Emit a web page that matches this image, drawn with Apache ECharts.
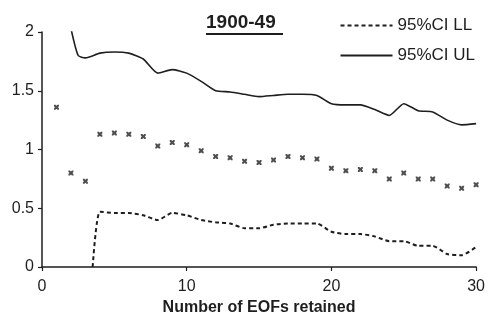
<!DOCTYPE html>
<html>
<head>
<meta charset="utf-8">
<script src="https://cdn.jsdelivr.net/npm/echarts@6/dist/echarts.min.js"></script>
<style>
  html, body { margin: 0; padding: 0; background: #fff; }
  #chart { width: 488px; height: 321px; }
</style>
</head>
<body>
<div id="chart"></div>
<script>
// Number of EOFs retained, and the statistic for each count
const eofCounts = [1, 2, 3, 4, 5, 6, 7, 8, 9, 10, 11, 12, 13, 14, 15, 16, 17, 18, 19, 20, 21, 22, 23, 24, 25, 26, 27, 28, 29, 30];
const statValues = [1.36, 0.80, 0.73, 1.13, 1.14, 1.13, 1.11, 1.03, 1.06, 1.04, 0.99, 0.94, 0.93, 0.90, 0.89, 0.91, 0.94, 0.93, 0.92, 0.84, 0.82, 0.83, 0.82, 0.75, 0.80, 0.75, 0.75, 0.69, 0.67, 0.70];

// 95% confidence interval, lower limit
const llX = [3.5, 4, 5, 6, 7, 8, 9, 10, 11, 12, 13, 14, 15, 16, 17, 18, 19, 20, 21, 22, 23, 24, 25, 26, 27, 28, 29, 30];
const llY = [0, 0.47, 0.46, 0.46, 0.44, 0.40, 0.46, 0.44, 0.40, 0.38, 0.37, 0.33, 0.33, 0.36, 0.37, 0.37, 0.37, 0.30, 0.28, 0.28, 0.26, 0.22, 0.22, 0.18, 0.18, 0.11, 0.10, 0.17];

// 95% confidence interval, upper limit
const ulX = [2, 2.5, 3, 4, 5, 6, 7, 8, 9, 10, 11, 12, 13, 14, 15, 16, 17, 18, 19, 20, 21, 22, 23, 24, 25, 26, 27, 28, 29, 30];
const ulY = [2.03, 1.80, 1.78, 1.82, 1.83, 1.82, 1.77, 1.65, 1.68, 1.65, 1.58, 1.50, 1.49, 1.47, 1.45, 1.46, 1.47, 1.47, 1.46, 1.39, 1.38, 1.38, 1.34, 1.29, 1.39, 1.33, 1.32, 1.25, 1.21, 1.22];

const xTicks = { min: 0, max: 30, interval: 10 };
const yTicks = { min: 0, max: 2, interval: 0.5 };

const titleText = '1900-49';
const seriesNames = ['95%CI LL', '95%CI UL'];

const ink = '#1e1e1e';
const fontFamily = '"Liberation Sans", Arial, sans-serif';

const zip = (xs, ys) => xs.map((x, i) => [x, ys[i]]);

const chart = echarts.init(document.getElementById('chart'), null, { renderer: 'canvas' });

chart.setOption({
  animation: false,
  backgroundColor: '#ffffff',
  textStyle: { fontFamily: fontFamily, color: ink },
  grid: { left: 42, right: 8, top: 32, bottom: 52, containLabel: false },
  graphic: [
    {
      type: 'text',
      left: 206,
      top: 13,
      style: {
        text: titleText,
        font: 'bold 19px ' + fontFamily,
        fill: ink
      }
    },
    {
      type: 'rect',
      left: 206,
      top: 33,
      shape: { width: 77, height: 2 },
      style: { fill: ink }
    }
  ],
  legend: {
    data: seriesNames,
    orient: 'vertical',
    right: 8,
    top: 12,
    itemWidth: 52,
    itemHeight: 14,
    itemGap: 13,
    itemStyle: { color: 'transparent', borderWidth: 0 },
    textStyle: { fontSize: 17, color: ink, fontFamily: fontFamily }
  },
  xAxis: {
    type: 'value',
    min: xTicks.min,
    max: xTicks.max,
    interval: xTicks.interval,
    name: 'Number of EOFs retained',
    nameLocation: 'middle',
    nameGap: 33,
    nameTextStyle: { fontSize: 16, fontWeight: 'bold', color: ink, fontFamily: fontFamily },
    axisLine: { onZero: false, lineStyle: { color: ink, width: 1.5 } },
    axisTick: { inside: false, length: 4, lineStyle: { color: ink, width: 1.2 } },
    axisLabel: { fontSize: 16, color: ink, margin: 12 },
    splitLine: { show: false }
  },
  yAxis: {
    type: 'value',
    min: yTicks.min,
    max: yTicks.max,
    interval: yTicks.interval,
    axisLine: { show: true, onZero: false, lineStyle: { color: ink, width: 1.5 } },
    axisTick: { show: true, inside: false, length: 4, lineStyle: { color: ink, width: 1.2 } },
    axisLabel: { fontSize: 16, color: ink, margin: 8 },
    splitLine: { show: false }
  },
  series: [
    {
      name: seriesNames[0],
      type: 'line',
      data: zip(llX, llY),
      smooth: 0.2,
      symbol: 'none',
      lineStyle: { color: ink, width: 2, type: [4, 3] },
      itemStyle: { color: ink }
    },
    {
      name: seriesNames[1],
      type: 'line',
      data: zip(ulX, ulY),
      smooth: 0.2,
      symbol: 'none',
      lineStyle: { color: ink, width: 1.6 },
      itemStyle: { color: ink }
    },
    {
      name: 'statistic',
      type: 'scatter',
      data: zip(eofCounts, statValues),
      symbol: 'path://M0,0L3,0L5,2L7,0L10,0L10,3L8,5L10,7L10,10L7,10L5,8L3,10L0,10L0,7L2,5L0,3Z',
      symbolSize: 5,
      itemStyle: { color: '#222' }
    }
  ]
});
</script>
</body>
</html>
